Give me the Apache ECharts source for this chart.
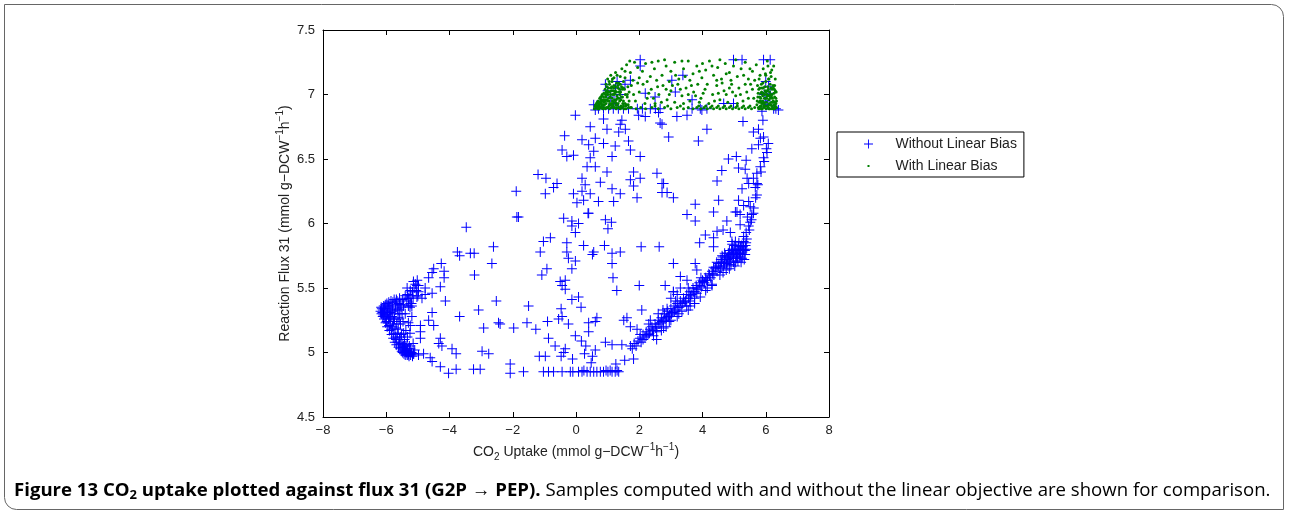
<!DOCTYPE html>
<html><head><meta charset="utf-8">
<script src="https://cdn.jsdelivr.net/npm/echarts@6/dist/echarts.min.js"></script>
<style>html,body{margin:0;padding:0;background:#fff}#c{width:1289px;height:514px}</style>
</head><body><div id="c"></div>
<script>
// ---- tick labels ----
const xTickValues = [-8, -6, -4, -2, 0, 2, 4, 6, 8];
const yTickValues = [4.5, 5, 5.5, 6, 6.5, 7, 7.5];
const seriesNames = ['Without Linear Bias', 'With Linear Bias'];

// ---- Without linear bias (blue +) ----
const noBiasTop = [[2.03,7.27],[2.03,7.22],[0.93,7.08],[1.72,7.11],[2.19,7.01],[0.56,6.92],[0.61,6.88],[4.98,7.27],[5.25,7.27],[5.93,7.27],[6.14,7.27],[3.38,7.15],[3.03,7.11],[3.14,7.02],[3.67,6.96],[6.09,7.06],[6.14,7.01],[6.25,6.89],[6.4,6.88],[4.98,6.93],[4.67,6.93],[3.98,6.88],[5.88,6.87],[1.0,7.03],[1.1,6.98],[1.25,7.05],[0.8,6.95],[1.4,7.0],[1.55,7.08],[1.2,6.93],[1.3,7.1],[6.0,6.95],[6.05,6.92],[5.95,7.0],[2.5,6.98],[6.0,7.1],
[0.71,6.89],[0.87,6.89],[1.03,6.89],[1.18,6.89],[1.34,6.89],[1.5,6.89],[1.66,6.89],[1.94,6.89],[2.1,6.89],[2.35,6.89],[2.51,6.89],[2.66,6.89],[3.67,6.89],[3.93,6.89],[4.14,6.89],[6.32,6.89]];
const noBiasUpper = [[-0.02,6.84],[0.87,6.81],[1.45,6.80],[1.98,6.84],[2.19,6.83],[2.61,6.86],[2.66,6.78],[1.40,6.77],[0.45,6.75],[0.98,6.73],[1.35,6.71],[1.56,6.73],[-0.36,6.68],[0.19,6.65],[0.61,6.66],[0.87,6.62],[1.24,6.60],[1.66,6.64],[1.72,6.57],[0.40,6.61],[0.56,6.56],[-0.44,6.57],[-0.08,6.53],[-0.29,6.52],[0.45,6.51],[1.14,6.52],[2.03,6.52],[0.35,6.44],[0.61,6.44],[0.98,6.40],[1.82,6.40],[2.56,6.39],[-1.20,6.38],[-0.95,6.35],[-0.60,6.31],[-0.71,6.28],[0.19,6.35],[0.77,6.32],[1.72,6.34],[2.03,6.35],[2.72,6.31],[0.29,6.30],[-0.97,6.23],[-0.08,6.23],[0.19,6.25],[0.45,6.23],[1.14,6.27],[1.40,6.23],[1.82,6.29],[0.03,6.16],[0.24,6.18],[0.71,6.17],[1.19,6.17],[1.93,6.20],[0.40,6.08],[-1.89,6.25],[2.72,6.24],
[3.19,6.83],[3.51,6.84],[2.72,6.77],[5.28,6.79],[4.14,6.73],[2.93,6.67],[3.87,6.64],[5.61,6.71],[5.77,6.73],[5.83,6.66],[5.93,6.67],[5.77,6.61],[5.56,6.58],[6.04,6.55],[5.93,6.51],[5.07,6.52],[5.38,6.49],[4.82,6.50],[4.61,6.41],[5.14,6.43],[5.35,6.42],[5.83,6.44],[5.72,6.39],[4.46,6.33],[2.77,6.31],[5.41,6.35],[5.61,6.35],[5.72,6.31],[5.46,6.31],[5.25,6.27],[5.67,6.28],[5.72,6.22],[2.88,6.24],[3.08,6.20],[4.51,6.18],[5.14,6.18],[5.46,6.17],[3.77,6.15],[5.30,6.14],[5.51,6.13],[4.35,6.09],[5.09,6.09],[5.61,6.08],[5.91,6.80]];
const noBiasRight = [[3.51,6.07],[3.77,6.02],[4.77,6.02],[5.04,6.09],[5.19,6.07],[5.42,6.05],[5.56,6.07],[5.19,5.99],[5.46,5.98],[5.51,6.01],[4.46,5.94],[4.65,5.95],[4.09,5.91],[4.88,5.93],[4.35,5.89],[4.93,5.86],[5.30,5.90],[5.38,5.93],[3.91,5.85],[4.35,5.82],[3.08,5.69],[3.77,5.69],[3.82,5.64],[3.30,5.59],[2.82,5.52],[3.08,5.47],[3.61,5.36],[4.30,5.53],[2.77,5.19],
[5.4,5.88],[5.48,5.95],[5.55,6.03],[5.62,6.12],[5.68,6.2],[5.75,6.3],[5.85,6.4],[5.95,6.48],[6.02,6.58],[6.08,6.62]];
const noBiasMiddle = [[-1.82,6.05],[-0.39,6.04],[-0.13,6.02],[0.08,6.00],[-0.13,5.98],[0.38,6.08],[0.93,6.03],[1.12,6.01],[1.01,5.96],[-0.02,5.93],[-0.81,5.89],[-1.03,5.86],[-0.29,5.85],[0.24,5.83],[0.90,5.83],[2.06,5.82],[2.63,5.82],[-1.13,5.78],[-0.29,5.78],[0.56,5.78],[0.52,5.76],[1.14,5.77],[1.40,5.78],[-0.24,5.73],[-0.02,5.71],[1.14,5.69],[-0.92,5.65],[-0.13,5.65],[-1.08,5.60],[1.17,5.58],[-0.50,5.55],[-0.44,5.52],[-0.34,5.56],[-0.34,5.49],[1.29,5.48],[2.00,5.52],[-0.13,5.41],[0.08,5.43],[0.16,5.35],[-1.50,5.36],[-0.47,5.34],[2.08,5.33],[-0.44,5.28],[-0.55,5.26],[0.66,5.27],[0.61,5.24],[0.40,5.23],[1.61,5.27],[1.51,5.25],[1.72,5.20],[-0.90,5.24],[-1.55,5.23],[-1.27,5.18],[-0.24,5.22],[0.40,5.16],[-0.87,5.11],[-0.02,5.13],[0.17,5.09],[0.31,5.05],[-0.66,5.05],[-0.34,5.03],[-0.39,5.00],[-1.16,4.97],[-0.97,4.97],[-0.47,4.97],[-0.11,4.95],[0.27,4.99],[0.61,5.02],[0.52,4.97],[0.48,4.92],[0.93,5.08],[1.14,5.06],[1.45,5.06],[1.26,4.91],[1.54,4.94],[1.82,4.95]];
const noBiasLeft = [[-1.87,6.05],[-3.47,5.97],[-2.61,5.82],[-3.75,5.78],[-3.68,5.75],[-3.34,5.77],[-3.22,5.77],[-2.66,5.69],[-3.21,5.60],[-4.26,5.69],[-4.50,5.65],[-4.17,5.63],[-4.55,5.62],[-4.66,5.58],[-4.17,5.58],[-5.14,5.55],[-5.03,5.52],[-5.34,5.50],[-4.77,5.50],[-4.29,5.51],[-4.98,5.47],[-4.77,5.45],[-4.55,5.46],[-5.29,5.42],[-5.03,5.43],[-4.87,5.42],[-5.24,5.38],[-4.13,5.40],[-2.52,5.40],[-3.08,5.33],[-5.56,5.37],[-5.45,5.36],[-5.19,5.36],[-4.55,5.31],[-3.68,5.28],[-5.19,5.28],[-4.66,5.25],[-2.45,5.23],[-2.40,5.22],[-4.92,5.21],[-4.50,5.21],[-5.24,5.21],[-2.92,5.19],[-1.97,5.19],[-4.92,5.16],[-5.45,5.15],[-4.92,5.11],[-4.29,5.11],[-4.34,5.07],[-4.24,5.05],[-3.92,5.03],[-3.79,4.99],[-5.45,5.05],[-5.34,5.06],[-5.24,5.03],[-5.14,4.99],[-4.98,4.98],[-4.82,4.99],[-4.61,4.96],[-4.55,4.93],[-2.97,5.01],[-2.76,4.99],[-4.29,4.89],[-4.03,4.84],[-3.79,4.87],[-3.24,4.87],[-3.03,4.87],[-2.08,4.91],[-2.08,4.84]];
const noBiasTip = [[-6.18,5.32],[-6.15,5.3],[-6.14,5.34],[-6.11,5.28],[-6.1,5.33],[-6.08,5.36],[-6.07,5.26],[-6.05,5.31],[-6.03,5.37],[-6.02,5.23],[-6.0,5.29],[-5.98,5.38],[-5.97,5.2],[-5.95,5.34],[-5.93,5.26],[-5.92,5.39],[-5.9,5.17],[-5.88,5.31],[-5.86,5.22],[-5.85,5.4],[-5.83,5.14],[-5.82,5.28],[-5.8,5.36],[-5.78,5.11],[-5.77,5.24],[-5.75,5.41],[-5.73,5.08],[-5.72,5.19],[-5.7,5.33],[-5.68,5.06],[-5.66,5.4],[-5.65,5.15],[-5.63,5.27],[-5.61,5.04],[-5.6,5.38],[-5.58,5.1],[-5.56,5.03],[-5.55,5.22],[-5.53,5.35],[-5.51,5.01],[-5.5,5.07],[-5.48,5.0],[-5.46,5.04],[-5.44,4.99],[-5.42,5.02],[-5.4,4.98],[-5.38,5.05],[-5.36,5.0],[-5.34,4.98],[-5.32,5.03],[-5.3,4.99],[-5.28,4.97],[-5.26,5.01],[-5.23,4.98],[-5.2,5.0],[-5.17,4.97],[-5.13,4.99],[-5.9,5.28],[-5.85,5.33],[-5.8,5.2],[-5.75,5.3],[-5.7,5.12],[-5.62,5.18],[-5.57,5.3],[-5.52,5.14],[-5.47,5.24],[-5.45,5.37],[-5.42,5.1],[-5.38,5.17],[-5.35,5.4],[-5.33,5.12],[-5.3,5.36],[-5.28,5.42],[-5.25,5.35],[-5.22,5.44],[-5.2,5.38],[-5.17,5.47],[-5.12,5.5],[-5.08,5.53],[-5.05,5.48],[-5.02,5.56],[-4.98,5.52],[-5.0,5.44],[-5.15,5.42],[-5.4,5.3],[-5.5,5.3],[-5.6,5.33],[-5.3,5.23],[-5.25,5.15],[-5.15,5.07],[-5.1,5.02],
[-6.16,5.35],[-6.12,5.31],[-6.09,5.29],[-6.06,5.34],[-6.04,5.27],[-6.01,5.32],[-5.99,5.24],[-5.96,5.3],[-5.94,5.36],[-5.91,5.21],[-5.89,5.35],[-5.87,5.27],[-5.84,5.18],[-5.81,5.32],[-5.79,5.39],[-5.76,5.15],[-5.74,5.26],[-5.71,5.37],[-5.69,5.1],[-5.67,5.22],[-5.64,5.34],[-5.62,5.08],[-5.59,5.26],[-5.57,5.06],[-5.54,5.12],[-5.49,5.04],[-5.47,5.02],[-5.43,5.06],[-5.39,5.01],[-5.31,4.98],[-5.27,5.05],[-5.68,5.41],[-5.58,5.42],[-5.48,5.41],[-5.4,5.44],[-5.33,5.45],[-5.24,5.48]];
const noBiasBottom = [[-1.66,4.85],[-1.03,4.85],[-0.87,4.85],[-0.71,4.85],[-0.44,4.85],[-0.18,4.85],[0.08,4.85],[0.19,4.85],[0.35,4.85],[0.56,4.85],[0.66,4.85],[0.77,4.85],[0.87,4.85],[1.01,4.85],[1.14,4.85],[1.24,4.85],[1.35,4.85],[0.45,4.85],[0.95,4.86],[1.3,4.86],[-0.1,4.85],[1.08,4.86],[0.25,4.86]];
const noBiasBand = [[1.72,5.05],[1.78,5.03],[1.84,5.07],[1.9,5.05],[1.96,5.09],[2.02,5.11],[2.06,5.08],[2.12,5.14],[2.18,5.12],[2.22,5.16],[2.28,5.14],[2.34,5.18],[2.4,5.2],[2.44,5.17],[2.5,5.22],[2.56,5.2],[2.6,5.25],[2.66,5.23],[2.7,5.27],[2.76,5.25],[2.8,5.3],[2.86,5.27],[2.9,5.32],[2.96,5.29],[3.0,5.34],[3.06,5.31],[3.1,5.36],[3.16,5.33],[3.2,5.38],[3.26,5.35],[3.3,5.4],[3.36,5.38],[3.4,5.42],[3.46,5.4],[3.5,5.45],[3.56,5.42],[3.6,5.47],[3.66,5.45],[3.7,5.5],[3.76,5.47],[3.8,5.52],[3.86,5.49],[3.9,5.54],[3.96,5.51],[4.0,5.56],[4.06,5.54],[4.1,5.58],[4.16,5.56],[4.2,5.61],[4.26,5.58],[4.3,5.63],[4.36,5.6],[4.4,5.65],[4.46,5.63],[4.5,5.67],[4.56,5.65],[4.6,5.7],[4.66,5.67],[4.7,5.72],[4.76,5.69],[4.8,5.74],[4.86,5.71],[4.9,5.76],[4.96,5.73],[5.0,5.78],[5.06,5.75],[5.1,5.8],[5.16,5.77],[5.2,5.82],[5.26,5.78],[5.3,5.8],[5.36,5.83],
[2.3,5.22],[2.55,5.16],[2.75,5.33],[2.95,5.24],[3.15,5.4],[3.35,5.32],[3.55,5.5],[3.75,5.42],[3.95,5.58],[4.15,5.5],[4.35,5.66],[4.55,5.6],[4.7,5.77],[4.75,5.64],[4.85,5.79],[4.9,5.68],[5.0,5.83],[5.05,5.7],[5.15,5.85],[5.25,5.73],[5.35,5.76],[4.62,5.75],[4.8,5.68],[4.95,5.8],[5.1,5.74],[5.2,5.77],[5.3,5.86],[4.45,5.7],[4.65,5.62],[4.85,5.65],[5.02,5.67],[5.12,5.71],[5.22,5.7],[5.32,5.72],
[2.45,5.13],[2.55,5.1],[2.85,5.2],[3.0,5.25],[3.25,5.3],[3.5,5.36],[3.55,5.33],[3.82,5.46],[3.93,5.43],[4.1,5.48],[4.3,5.52],[3.6,5.4],[3.75,5.38],[3.2,5.28],[2.7,5.17],
[1.93,5.18],[2.03,5.14],[2.35,5.25],[2.88,5.34],[3.08,5.47],[3.3,5.5],[3.51,5.56],[2.6,5.3],[3.2,5.45],[3.0,5.42],
[4.52,5.69],[4.58,5.72],[4.64,5.74],[4.68,5.7],[4.72,5.75],[4.78,5.72],[4.82,5.77],[4.88,5.74],[4.92,5.79],[4.98,5.76],[5.04,5.8],[5.08,5.77],[5.14,5.82],[5.18,5.79],[5.24,5.83],[5.28,5.76],[5.34,5.79],[5.38,5.8],[4.58,5.66],[4.7,5.69],[4.84,5.73],[4.98,5.7],[5.08,5.73],[5.18,5.74],[5.28,5.82],[5.38,5.85],[4.94,5.84],[5.04,5.86],[3.62,5.44],[3.72,5.47],[3.82,5.5],[3.92,5.52],[4.02,5.55],[4.12,5.56],[4.22,5.6],[4.32,5.61],[4.42,5.66],[3.42,5.39],[3.32,5.36],[3.22,5.35],[3.12,5.32],[3.02,5.3],[2.92,5.28],[2.82,5.26],[2.72,5.24],[2.62,5.22],[2.52,5.19],[2.42,5.17],[2.32,5.15],[2.22,5.13],[2.12,5.1]];

// ---- With linear bias (green dots) ----
const biasUpper = [[1.45,7.2],[1.6,7.23],[1.72,7.17],[1.85,7.25],[1.95,7.21],[2.1,7.18],[2.2,7.24],[2.35,7.14],[2.48,7.2],[2.6,7.26],[2.72,7.15],[2.85,7.22],[3.0,7.18],[3.12,7.25],[3.25,7.12],[3.4,7.2],[3.55,7.26],[3.7,7.16],[3.82,7.22],[3.98,7.13],[4.1,7.19],[4.22,7.26],[4.35,7.15],[4.48,7.21],[4.6,7.12],[4.72,7.24],[4.85,7.17],[4.98,7.22],[5.1,7.14],[5.22,7.2],[5.35,7.25],[5.45,7.12],[5.58,7.18],[5.7,7.23],[5.82,7.15],[5.92,7.2],[6.05,7.26],[6.15,7.17],[6.25,7.22],[1.3,7.15],[1.15,7.12],[1.55,7.13],[2.0,7.13],[2.55,7.11],[2.95,7.1],[3.35,7.26],[3.6,7.11],[4.0,7.24],[4.45,7.11],[4.9,7.11],[5.3,7.15],[5.65,7.11],[6.1,7.12],[1.8,7.11],[2.25,7.1],[3.15,7.15],[3.9,7.18],[4.3,7.22],[4.75,7.16],[5.5,7.2],[6.0,7.15],[2.4,7.25],[1.7,7.26],[5.05,7.27],[4.55,7.27],[3.45,7.14],[2.8,7.27]];
const biasMiddle = [[1.5,7.05],[1.62,6.98],[1.75,7.07],[1.88,6.95],[2.0,7.02],[2.12,7.08],[2.25,6.97],[2.38,7.04],[2.5,6.93],[2.62,7.0],[2.75,7.07],[2.88,6.96],[3.0,7.03],[3.12,6.94],[3.22,7.08],[3.35,6.99],[3.48,7.05],[3.6,6.95],[3.72,7.02],[3.85,7.08],[3.95,6.97],[4.08,7.04],[4.2,6.93],[4.32,7.0],[4.45,7.07],[4.55,6.96],[4.68,7.03],[4.8,6.94],[4.92,7.08],[5.05,6.99],[5.15,7.05],[5.28,6.95],[5.4,7.02],[5.52,7.08],[5.62,6.97],[1.55,6.93],[1.95,7.09],[2.3,7.01],[2.7,6.94],[3.05,7.07],[3.4,6.93],[3.78,6.99],[4.15,7.08],[4.5,7.01],[4.85,7.05],[5.2,7.0],[5.58,7.04],[1.68,7.02],[2.18,6.93],[2.58,7.06],[2.95,7.0],[3.3,7.04],[3.65,7.07],[4.02,7.01],[4.38,6.95],[4.75,7.0],[5.1,6.93],[5.45,6.97],[2.45,6.97],[3.55,7.0],[4.62,7.09],[5.35,7.08],[1.82,7.0],[2.85,7.04],[3.9,6.94],[4.95,7.02]];
const biasFloor = [[1.75,6.9],[1.9,6.89],[2.05,6.9],[2.2,6.89],[2.4,6.9],[2.6,6.89],[2.8,6.9],[3.0,6.89],[3.2,6.9],[3.4,6.89],[3.55,6.9],[3.7,6.89],[3.82,6.9],[3.95,6.89],[4.05,6.9],[4.15,6.89],[4.25,6.9],[4.35,6.89],[4.45,6.9],[4.55,6.89],[4.65,6.9],[4.75,6.89],[4.85,6.9],[4.95,6.89],[5.05,6.9],[5.15,6.89],[5.25,6.9],[5.35,6.89],[5.45,6.9],[5.55,6.89],[5.65,6.9],[3.88,6.91],[4.1,6.91],[4.3,6.91],[4.5,6.91],[4.7,6.91],[4.9,6.91],[5.1,6.91],[5.3,6.91],[5.5,6.91],[2.5,6.91],[2.9,6.91],[3.3,6.91]];
const biasLeftCorner = [[0.58,6.89],[0.6,6.91],[0.63,6.9],[0.65,6.93],[0.68,6.89],[0.7,6.95],[0.72,6.91],[0.75,6.97],[0.77,6.9],[0.8,6.93],[0.82,6.99],[0.84,6.89],[0.86,6.96],[0.88,7.01],[0.9,6.92],[0.92,7.04],[0.94,6.98],[0.96,6.9],[0.98,7.06],[1.0,6.95],[1.02,7.02],[1.04,6.91],[1.06,7.08],[1.08,6.98],[1.1,7.05],[1.12,6.93],[1.14,7.1],[1.16,7.0],[1.18,6.9],[1.2,7.07],[1.22,6.96],[1.24,7.03],[1.26,6.92],[1.28,7.09],[1.3,6.99],[1.32,7.05],[1.34,6.9],[1.36,7.02],[1.38,6.95],[1.4,7.08],[1.42,6.91],[1.44,6.98],[1.46,7.04],[1.48,6.93],[1.5,7.1],[1.52,6.89],[1.56,7.0],[1.6,6.92],[1.64,7.06],[1.68,6.95],[1.72,6.9],[0.74,6.92],[0.79,6.96],[0.85,6.92],[0.91,6.96],[0.97,7.0],[1.03,6.97],[1.09,7.0],[1.15,6.95],[1.21,7.0],[1.27,6.96],[1.33,6.93],[1.39,7.0],[1.45,6.9],[1.03,7.05],[1.13,7.06],[1.25,7.06],[1.35,7.09],[0.95,6.93],[1.07,6.93],[1.19,6.94],[1.31,6.97],[1.41,7.02],[0.66,6.91],[0.7,6.9],[0.88,6.94],[1.0,6.9],[1.11,6.9],[1.23,6.9],[1.29,6.9],[1.37,6.9],[0.83,6.95],[0.93,7.0],[1.17,7.03],[0.99,7.03],
[1.0,7.12],[1.1,7.15],[1.2,7.13],[1.05,7.1],[0.95,7.08],[1.25,7.17],[1.4,7.14],[1.55,7.18],
[0.62,6.92],[0.67,6.94],[0.71,6.93],[0.76,6.94],[0.78,6.98],[0.81,6.91],[0.83,7.0],[0.87,6.98],[0.89,6.9],[0.92,6.95],[0.95,7.02],[0.97,6.96],[1.01,7.0],[1.04,6.95],[1.06,7.02],[1.09,6.92],[1.12,7.03],[1.14,6.97],[1.17,6.92],[1.19,7.05],[1.22,7.01],[1.25,6.94],[1.28,7.02],[1.3,6.92],[1.33,7.07],[1.35,6.97],[1.38,7.04],[1.42,6.96],[1.44,7.06],[1.47,6.98],[1.5,6.95],[1.53,7.04],[1.57,6.91],[1.62,7.0],[1.66,6.9],[0.73,6.89],[0.81,6.9],[0.93,6.89],[1.06,6.89],[1.15,6.91],[1.27,6.89],[1.4,6.89],[1.5,6.91],[1.58,6.89],[1.65,6.92]];
const biasRightColumn = [[5.72,6.92],[5.75,6.98],[5.78,7.04],[5.8,6.9],[5.82,6.95],[5.84,7.01],[5.86,7.08],[5.88,6.93],[5.9,6.99],[5.92,7.05],[5.94,6.91],[5.96,6.97],[5.98,7.03],[6.0,7.1],[6.02,6.94],[6.04,7.0],[6.06,7.06],[6.08,6.9],[6.1,6.96],[6.12,7.02],[6.14,7.08],[6.16,6.92],[6.18,6.98],[6.2,7.04],[6.22,6.9],[6.24,6.95],[6.26,7.01],[6.28,7.07],[6.3,6.91],[6.32,6.97],[6.34,6.9],[5.77,6.9],[5.83,6.91],[5.89,6.89],[5.95,6.9],[6.01,6.89],[6.07,6.91],[6.13,6.89],[6.19,6.91],[6.25,6.89],[6.31,6.9],[5.85,6.94],[5.93,6.94],[6.03,6.97],[6.11,6.93],[6.21,6.97],[6.29,6.94],[5.81,6.98],[5.97,7.0],[6.15,7.0],[6.27,7.04],[5.87,7.02],[6.05,7.03],[6.23,7.07],[5.91,7.09],[6.09,7.12],[6.17,7.14],[5.99,7.16],[6.19,7.19],[6.07,7.22],[6.3,7.12],[6.33,7.02],[5.74,7.07],[5.79,7.12],
[5.73,6.95],[5.76,7.01],[5.79,6.94],[5.81,7.05],[5.84,6.97],[5.86,6.91],[5.88,7.05],[5.9,6.95],[5.92,7.01],[5.95,6.93],[5.97,7.06],[5.99,6.97],[6.01,7.02],[6.03,6.91],[6.05,6.99],[6.08,7.04],[6.1,6.99],[6.12,6.92],[6.14,6.97],[6.16,7.05],[6.18,6.94],[6.2,7.0],[6.22,6.94],[6.24,7.05],[6.26,6.92],[6.28,6.98],[6.3,7.03],[6.32,6.93],[6.34,6.95],[5.78,6.89],[5.86,6.89],[5.98,6.91],[6.1,6.89],[6.2,6.89],[6.28,6.89]];

const withoutBias = [].concat(noBiasTop, noBiasUpper, noBiasRight, noBiasMiddle, noBiasLeft, noBiasTip, noBiasBottom, noBiasBand);
const withBias = [].concat(biasUpper, biasMiddle, biasFloor, biasLeftCorner, biasRightColumn);

// ---- styling ----
const FONT = 'Liberation Sans, Arial, Helvetica, sans-serif';
const plusPath = 'path://M4.5,0h1v4.5h4.5v1h-4.5v4.5h-1v-4.5h-4.5v-1h4.5z';
const dotLegend = 'path://M0,0M9,9M3.5,3.5h2v2h-2z';
const fmtTick = v => (v < 0 ? '\u2212' + Math.abs(v) : String(v));
const unitRich = {
  t: {fontSize: 14, lineHeight: 20, fontFamily: FONT, color: '#222'},
  p: {fontSize: 10, lineHeight: 11, verticalAlign: 'top', fontFamily: FONT, color: '#222'},
  s: {fontSize: 10, lineHeight: 11, verticalAlign: 'bottom', fontFamily: FONT, color: '#222'}
};

// caption
const capBold = 'Figure 13 CO';
const capBold2 = ' uptake plotted against flux 31 (G2P \u2192 PEP).';
const capReg = ' Samples computed with and without the linear objective are shown for comparison.';
const CAPFONT = 'Open Sans, Liberation Sans, sans-serif';
const capSize = 18.6;

const axisCommon = {
  axisLine: {onZero: false, lineStyle: {color: '#000', width: 1}},
  axisTick: {inside: true, length: 5, lineStyle: {color: '#000'}},
  splitLine: {show: false}
};

const chart = echarts.init(document.getElementById('c'), null, {renderer: 'canvas'});
chart.setOption({
  animation: false,
  backgroundColor: '#fff',
  grid: {left: 323, top: 30, width: 506, height: 387},
  xAxis: [
    Object.assign({}, axisCommon, {
      type: 'value', position: 'bottom',
      min: xTickValues[0], max: xTickValues[xTickValues.length - 1], interval: 2,
      axisLabel: {formatter: fmtTick, fontSize: 13, color: '#222', fontFamily: FONT, margin: 7},
      name: '{t|CO}{s|2}{t| Uptake (mmol g\u2212DCW}{p|\u22121}{t|h}{p|\u22121}{t|)}',
      nameLocation: 'middle', nameGap: 25,
      nameTextStyle: {rich: unitRich}
    }),
    Object.assign({}, axisCommon, {
      type: 'value', position: 'top',
      min: xTickValues[0], max: xTickValues[xTickValues.length - 1], interval: 2,
      axisLabel: {show: false}
    })
  ],
  yAxis: [
    Object.assign({}, axisCommon, {
      type: 'value', position: 'left',
      min: yTickValues[0], max: yTickValues[yTickValues.length - 1], interval: 0.5,
      axisLabel: {formatter: fmtTick, fontSize: 13, color: '#222', fontFamily: FONT, margin: 8},
      name: '{t|Reaction Flux 31 (mmol g\u2212DCW}{p|\u22121}{t|h}{p|\u22121}{t|)}',
      nameLocation: 'middle', nameGap: 28,
      nameTextStyle: {rich: unitRich}
    }),
    Object.assign({}, axisCommon, {
      type: 'value', position: 'right',
      min: yTickValues[0], max: yTickValues[yTickValues.length - 1], interval: 0.5,
      axisLabel: {show: false}
    })
  ],
  legend: {
    orient: 'vertical', left: 837, top: 132,
    padding: [5, 7, 4, 27], itemGap: 8,
    itemWidth: 44, itemHeight: 9,
    borderColor: '#000', borderWidth: 1, backgroundColor: '#fff',
    selectedMode: false,
    textStyle: {fontSize: 14, color: '#222', fontFamily: FONT},
    data: [{name: seriesNames[0], icon: plusPath}, {name: seriesNames[1], icon: dotLegend}]
  },
  series: [
    {type: 'scatter', name: seriesNames[0], data: withoutBias, symbol: plusPath, symbolSize: 10,
     itemStyle: {color: '#0000ff', opacity: 1}, silent: true, z: 2},
    {type: 'scatter', name: seriesNames[1], data: withBias, symbol: 'circle', symbolSize: 3,
     itemStyle: {color: '#008000', opacity: 1}, silent: true, z: 3}
  ],
  graphic: [
    {type: 'rect', silent: true, shape: {x: 4.5, y: 4.5, width: 1279, height: 505, r: [0, 12, 0, 12]},
     style: {fill: 'none', stroke: '#666', lineWidth: 1}},
    {type: 'text', silent: true, left: 14, top: 481,
     style: {
       text: '{b|' + capBold + '}{bs|2}{b|' + capBold2 + '}{r|' + capReg + '}',
       rich: {
         b: {fontFamily: CAPFONT, fontWeight: 'bold', fontSize: capSize, color: '#1a1a1a', lineHeight: 22},
         bs: {fontFamily: CAPFONT, fontWeight: 'bold', fontSize: capSize * 0.7, color: '#1a1a1a', lineHeight: 12, verticalAlign: 'bottom'},
         r: {fontFamily: CAPFONT, fontSize: capSize, color: '#444', lineHeight: 22}
       }
     }}
  ]
});
</script></body></html>
